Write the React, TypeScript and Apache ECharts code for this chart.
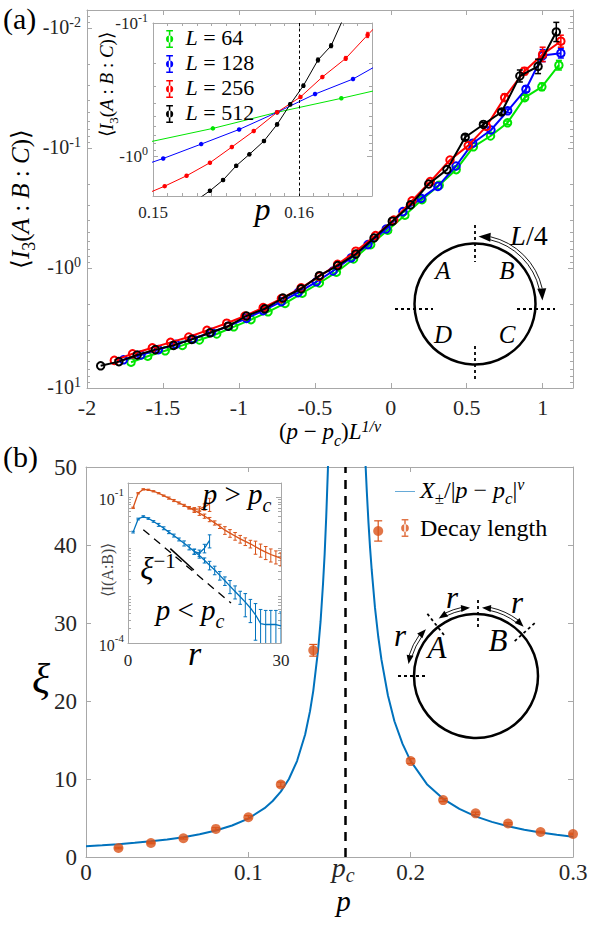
import React, { useEffect, useRef } from 'react';
import * as echarts from 'echarts';

// ---------------- Panel (a): collapse, y = log10|<I3(A:B:C)>| (quantity is negative) ----------------
const aL64X = [-1.71, -1.6, -1.485, -1.372, -1.26, -1.146, -1.034, -0.92, -0.808, -0.696, -0.583, -0.47, -0.358, -0.245, -0.132, -0.02, 0.093, 0.206, 0.319, 0.431, 0.544, 0.657, 0.769, 0.882, 0.995, 1.107];
const aL64Y = [0.785, 0.735, 0.69, 0.645, 0.6, 0.55, 0.49, 0.43, 0.365, 0.295, 0.21, 0.125, 0.035, -0.075, -0.195, -0.315, -0.44, -0.57, -0.69, -0.82, -1.01, -1.1, -1.21, -1.42, -1.51, -1.69];
const aL64E = [0, 0, 0, 0, 0, 0, 0, 0, 0, 0, 0, 0, 0, 0, 0, 0, 0, 0, 0, 0, 0, 0, 0.015, 0.02, 0.03, 0.04];

const aL128X = [-1.76, -1.645, -1.53, -1.415, -1.3, -1.18, -1.07, -0.95, -0.84, -0.72, -0.61, -0.49, -0.38, -0.26, -0.15, -0.03, 0.08, 0.2, 0.31, 0.43, 0.54, 0.66, 0.77, 0.89, 1.0, 1.12];
const aL128Y = [0.765, 0.725, 0.68, 0.635, 0.59, 0.535, 0.485, 0.42, 0.355, 0.28, 0.205, 0.115, 0.025, -0.085, -0.195, -0.325, -0.47, -0.58, -0.68, -0.85, -1.04, -1.15, -1.31, -1.49, -1.77, -1.79];
const aL128E = [0, 0, 0, 0, 0, 0, 0, 0, 0, 0, 0, 0, 0, 0, 0, 0, 0, 0, 0, 0, 0, 0, 0.015, 0.025, 0.05, 0.04];

const aL256X = [-1.82, -1.7, -1.57, -1.45, -1.33, -1.21, -1.08, -0.96, -0.84, -0.72, -0.59, -0.47, -0.35, -0.23, -0.1, 0.02, 0.14, 0.26, 0.39, 0.51, 0.63, 0.75, 0.88, 1.0, 1.12];
const aL256Y = [0.77, 0.715, 0.665, 0.62, 0.575, 0.52, 0.46, 0.4, 0.33, 0.255, 0.165, 0.07, -0.03, -0.14, -0.27, -0.4, -0.56, -0.72, -0.9, -1.02, -1.18, -1.42, -1.64, -1.78, -1.89];
const aL256E = [0, 0, 0, 0, 0, 0, 0, 0, 0, 0, 0, 0, 0, 0, 0, 0, 0, 0, 0, 0, 0, 0.03, 0.03, 0.06, 0.05];

const aL512X = [-1.91, -1.79, -1.67, -1.55, -1.43, -1.31, -1.19, -1.07, -0.95, -0.83, -0.71, -0.59, -0.47, -0.35, -0.23, -0.11, 0.01, 0.13, 0.25, 0.37, 0.49, 0.61, 0.73, 0.85, 0.97, 1.09];
const aL512Y = [0.815, 0.78, 0.725, 0.68, 0.645, 0.595, 0.54, 0.485, 0.4, 0.34, 0.25, 0.173, 0.064, -0.02, -0.116, -0.25, -0.39, -0.526, -0.7, -0.82, -1.09, -1.196, -1.3, -1.6, -1.68, -1.967];
const aL512E = [0, 0, 0, 0, 0, 0, 0, 0, 0, 0, 0, 0, 0, 0, 0, 0, 0, 0, 0, 0, 0.02, 0.015, 0.02, 0.05, 0.06, 0.08];

// Inset (a): log10|<I3>| vs p
const PC_A = 0.1592;
const inL64P = [0.1497, 0.1541, 0.1585, 0.1629, 0.1673];
const inL64Y = [-0.105, -0.208, -0.329, -0.434, -0.545];
const inL128P = [0.1481, 0.1507, 0.1533, 0.1559, 0.1585, 0.1611, 0.1637, 0.1663];
const inL128Y = [0.115, 0.018, -0.09, -0.2, -0.329, -0.466, -0.579, -0.74];
const inL256P = [0.1492, 0.1508, 0.1523, 0.1539, 0.1554, 0.1569, 0.1585, 0.1601, 0.1616, 0.1632, 0.1647, 0.1662];
const inL256Y = [0.3, 0.226, 0.148, 0.05, -0.068, -0.188, -0.329, -0.444, -0.594, -0.734, -0.91, -1.08];
const inL256E = [0, 0, 0, 0, 0, 0, 0, 0, 0, 0.015, 0.02, 0.02];
const inL512P = [0.153, 0.1539, 0.1548, 0.1557, 0.1566, 0.1576, 0.1585, 0.1594, 0.1603, 0.1613, 0.1622, 0.1631];
const inL512Y = [0.33, 0.261, 0.18, 0.073, -0.013, -0.113, -0.238, -0.389, -0.529, -0.722, -0.829, -1.05];
const inL512E = [0.01, 0.01, 0.01, 0.01, 0.01, 0.01, 0.012, 0.012, 0.012, 0.015, 0.015, 0.015];

// ---------------- Panel (b): correlation length xi vs p ----------------
const PC = 0.1585;
const fitLeftP = [0, 0.01, 0.02, 0.03, 0.04, 0.05, 0.06, 0.07, 0.08, 0.09, 0.1, 0.11, 0.115, 0.12, 0.125, 0.13, 0.135, 0.138, 0.14, 0.143, 0.1445, 0.146, 0.147, 0.148, 0.149, 0.1495];
const fitLeftXi = [1.39, 1.51, 1.65, 1.82, 2.01, 2.25, 2.54, 2.91, 3.39, 4.04, 4.93, 6.26, 7.18, 8.38, 10.0, 12.3, 15.7, 18.7, 21.3, 26.6, 30.2, 35.0, 38.8, 43.7, 49.6, 53.2];
const fitRightP = [0.172, 0.173, 0.174, 0.175, 0.176, 0.178, 0.18, 0.182, 0.186, 0.19, 0.195, 0.2, 0.21, 0.22, 0.23, 0.24, 0.25, 0.26, 0.27, 0.28, 0.29, 0.3];
const fitRightXi = [51.2, 46.8, 42.9, 39.6, 36.8, 32.0, 28.3, 25.3, 20.7, 17.4, 14.5, 12.3, 9.34, 7.46, 6.16, 5.21, 4.5, 3.95, 3.5, 3.14, 2.84, 2.59];
const decayP = [0.02, 0.04, 0.06, 0.08, 0.1, 0.12, 0.14, 0.18, 0.2, 0.22, 0.24, 0.26, 0.28, 0.3];
const decayXi = [1.15, 1.8, 2.4, 3.6, 5.1, 9.3, 26.5, 41.8, 12.3, 7.3, 5.6, 4.3, 3.2, 2.95];
const decayErr = [0.1, 0.1, 0.1, 0.15, 0.2, 0.3, 0.75, 1.3, 0.3, 0.2, 0.15, 0.1, 0.1, 0.1];

// Inset (b): log10 <I(A:B)> vs r, with relative errors
const rVals = [1, 2, 3, 4, 5, 6, 7, 8, 9, 10, 11, 12, 13, 14, 15, 16, 17, 18, 19, 20, 21, 22, 23, 24, 25, 26, 27, 28, 29, 30];
const iabAbove = [-1.22, -0.92, -0.84, -0.85, -0.88, -0.92, -0.97, -1.02, -1.07, -1.12, -1.17, -1.22, -1.27, -1.33, -1.39, -1.46, -1.53, -1.6, -1.68, -1.74, -1.8, -1.86, -1.91, -1.96, -2.02, -2.08, -2.13, -2.18, -2.22, -2.26];
const iabAboveRel = [0.03, 0.03, 0.03, 0.03, 0.03, 0.03, 0.03, 0.05, 0.05, 0.05, 0.05, 0.05, 0.1, 0.1, 0.1, 0.1, 0.1, 0.1, 0.18, 0.18, 0.18, 0.18, 0.18, 0.18, 0.3, 0.3, 0.3, 0.3, 0.3, 0.3];
const iabBelow = [-1.72, -1.45, -1.4, -1.44, -1.5, -1.57, -1.64, -1.72, -1.79, -1.87, -1.95, -2.03, -2.12, -2.2, -2.3, -2.4, -2.5, -2.61, -2.72, -2.83, -2.94, -3.05, -3.16, -3.28, -3.42, -3.6, -3.62, -3.62, -3.62, -3.65];
const iabBelowRel = [0.04, 0.04, 0.04, 0.04, 0.04, 0.07, 0.07, 0.07, 0.07, 0.07, 0.12, 0.12, 0.12, 0.12, 0.12, 0.2, 0.2, 0.2, 0.2, 0.3, 0.3, 0.3, 0.5, 0.5, 0.7, 0.95, 0.95, 0.95, 0.95, 0.95];
const shortAboveR = [12, 13, 14, 15, 16];
const shortAbove = [-1.22, -1.25, -1.24, -1.2, -1.14];
const shortAboveRel = [0.05, 0.08, 0.1, 0.15, 0.3];
const shortBelowR = [13, 14, 15, 16];
const shortBelow = [-2.12, -2.15, -2.05, -1.89];
const shortBelowRel = [0.12, 0.15, 0.2, 0.3];
const guideR = [3.0, 20.2];
const guideY = [-1.67, -3.18];
const arrowR = [8.3, 12.9];
const arrowY = [-2.06, -2.5];

// ---------------- style ----------------
const SERIF = 'Liberation Serif';
const AX = '#a8a8a8';
const TXT = '#262626';
const GREEN = '#00e600';
const BLUE = '#0000ff';
const RED = '#ff0000';
const BLACK = '#000000';
const MBLUE = '#0072BD';
const MORANGE = '#D95319';

function rich(fs: number, color = '#000') {
  const b = Math.round(fs * 0.2);
  const base = { fontFamily: SERIF, color, verticalAlign: 'bottom' };
  return {
    n: { ...base, fontSize: fs, padding: [0, 0, b, 0] },
    m: { ...base, fontSize: fs, padding: [0, 0, 0, 0] },
    i: { ...base, fontSize: fs, fontStyle: 'italic', padding: [0, 0, b, 0] },
    il: { ...base, fontSize: fs, fontStyle: 'italic', lineHeight: Math.round(fs * 0.75), padding: [0, 0, 0, 0] },
    sub: { ...base, fontSize: Math.round(fs * 0.7), fontStyle: 'italic', padding: [0, 0, 0, 0] },
    subn: { ...base, fontSize: Math.round(fs * 0.7), padding: [0, 0, 0, 0] },
    sup: { ...base, fontSize: Math.round(fs * 0.68), padding: [0, 0, Math.round(fs * 0.62), 0] },
    supi: { ...base, fontSize: Math.round(fs * 0.68), fontStyle: 'italic', padding: [0, 0, Math.round(fs * 0.62), 0] },
    // large math tokens used beside ordinary tick labels
    bi: { ...base, fontSize: 28, fontStyle: 'italic', lineHeight: 24, padding: [0, 0, 4, 0] },
    bsub: { ...base, fontSize: 20, fontStyle: 'italic', lineHeight: 18, padding: [0, 0, 0, 0] },
  };
}

const pts = (xs: number[], ys: number[]) => xs.map((x, i) => [x, ys[i]]);
const errSym = (xs: number[], ys: number[], es: number[]) =>
  xs.map((x, i) => [x, ys[i] - es[i], ys[i] + es[i]]).filter((_, i) => es[i] > 0);
const errRel = (xs: number[], ys: number[], rel: number[]) =>
  xs.map((x, i) => [x, rel[i] >= 1 ? -10 : ys[i] + Math.log10(1 - rel[i]), ys[i] + Math.log10(1 + rel[i])]);

function logMinors(lo: number, hi: number) {
  const out: number[] = [];
  for (let n = -6; n <= 2; n++) for (let k = 2; k <= 9; k++) {
    const v = Math.log10(k) + n;
    if (v > lo + 1e-6 && v < hi - 1e-6) out.push(v);
  }
  return out;
}

function buildAxes(list: any[], dim: 'x' | 'y', o: any) {
  const idx = list.length;
  const sides = dim === 'x' ? ['bottom', 'top'] : ['left', 'right'];
  sides.forEach((pos, s) => {
    const common = {
      gridIndex: o.grid, type: 'value', min: o.min, max: o.max, inverse: !!o.inverse,
      position: pos, splitLine: { show: false }, minorTick: { show: false },
    };
    const ax: any = {
      ...common,
      axisLine: { show: true, onZero: false, lineStyle: { color: AX, width: 1 } },
      axisTick: { show: true, inside: true, length: o.majorLen ?? 5, customValues: o.majors, lineStyle: { color: AX, width: 1 } },
      axisLabel: s === 0 && o.label ? { ...o.label, customValues: o.labelValues ?? o.majors } : { show: false },
    };
    if (s === 0 && o.name) {
      ax.name = o.name;
      ax.nameLocation = 'middle';
      ax.nameGap = o.nameGap;
      ax.nameRotate = o.nameRotate ?? 0;
      ax.nameTextStyle = o.nameTextStyle;
      ax.nameMoveOverlap = false;
    }
    list.push(ax);
    if (o.minors && o.minors.length) {
      list.push({
        ...common,
        axisLine: { show: false, onZero: false },
        axisTick: { show: true, inside: true, length: o.minorLen ?? 3, customValues: o.minors, lineStyle: { color: AX, width: 1 } },
        axisLabel: { show: false },
      });
    }
  });
  return idx;
}

const errRender = (color: string, cap: number, lw: number) => (_p: any, api: any) => {
  const x = api.value(0), lo = api.value(1), hi = api.value(2);
  const a = api.coord([x, lo]);
  const b = api.coord([x, hi]);
  const st = { stroke: color, lineWidth: lw };
  return {
    type: 'group',
    children: [
      { type: 'line', shape: { x1: a[0], y1: a[1], x2: b[0], y2: b[1] }, style: st },
      { type: 'line', shape: { x1: a[0] - cap, y1: a[1], x2: a[0] + cap, y2: a[1] }, style: st },
      { type: 'line', shape: { x1: b[0] - cap, y1: b[1], x2: b[0] + cap, y2: b[1] }, style: st },
    ],
  };
};

function errSeries(name: string, xi: number, yi: number, data: number[][], color: string, cap: number, lw: number, z: number) {
  return {
    type: 'custom', name, xAxisIndex: xi, yAxisIndex: yi, z, clip: true, silent: true,
    encode: { x: 0, y: [1, 2] }, data, renderItem: errRender(color, cap, lw),
  };
}

// diagram helpers
const D2R = Math.PI / 180;
function arrowHead(cx: number, cy: number, R: number, deg: number, ccw: boolean, len: number, half: number) {
  const t = deg * D2R;
  const tx = cx + R * Math.cos(t), ty = cy + R * Math.sin(t);
  const ux = ccw ? Math.sin(t) : -Math.sin(t);
  const uy = ccw ? -Math.cos(t) : Math.cos(t);
  const bx = tx - ux * len, by = ty - uy * len;
  return {
    type: 'polygon', z: 20,
    shape: { points: [[tx, ty], [bx - uy * half, by + ux * half], [bx + uy * half, by - ux * half]] },
    style: { fill: '#000' },
  };
}
function arcEl(cx: number, cy: number, r: number, a0: number, a1: number, lw: number) {
  return { type: 'arc', z: 20, shape: { cx, cy, r, startAngle: a0 * D2R, endAngle: a1 * D2R, clockwise: true }, style: { stroke: '#000', fill: 'none', lineWidth: lw } };
}
function dash(x1: number, y1: number, x2: number, y2: number, lw = 1.8) {
  return { type: 'line', z: 20, shape: { x1, y1, x2, y2 }, style: { stroke: '#000', lineWidth: lw, lineDash: [3, 3] } };
}
function radialDash(cx: number, cy: number, deg: number, r0: number, r1: number) {
  const t = deg * D2R;
  return dash(cx + r0 * Math.cos(t), cy + r0 * Math.sin(t), cx + r1 * Math.cos(t), cy + r1 * Math.sin(t));
}
function label(x: number, y: number, text: string, fs: number) {
  return {
    type: 'text', z: 21, x, y,
    style: { text, rich: rich(fs, '#000'), fontFamily: SERIF, fontSize: fs, fill: '#000', align: 'center', verticalAlign: 'middle', textAlign: 'center', textVerticalAlign: 'middle' },
  };
}

const EB_ICON = 'path://M2.4 0h1.2v14H2.4z M0.4 0h5.2v1.2H0.4z M0.4 12.8h5.2V14H0.4z M0.2 7a2.8 2.8 0 1 0 5.6 0a2.8 2.8 0 1 0 -5.6 0z';
const EB_DOT_ICON = 'path://M2.4 0h1.2v14H2.4z M0.4 0h5.2v1.2H0.4z M0.4 12.8h5.2V14H0.4z M0 7a3 3 0 1 0 6 0a3 3 0 1 0 -6 0z';
const LINE_ICON = 'path://M0 0h20v0.6H0z';
const FIT_NAME = 'X±/|p − pc|^ν';

function buildOption() {
  const xAxes: any[] = [];
  const yAxes: any[] = [];

  // grid 0: panel (a) main
  const X0 = buildAxes(xAxes, 'x', {
    grid: 0, min: -2, max: 1.2, majors: [-2, -1.5, -1, -0.5, 0, 0.5, 1],
    label: { fontFamily: SERIF, fontSize: 22, color: TXT, margin: 8, formatter: (v: number) => String(v) },
    name: '{n|(}{i|p}{n| − }{i|p}{sub|c}{n|)}{i|L}{supi|1/ν}', nameGap: 45,
    nameTextStyle: { rich: rich(23), verticalAlign: 'middle' },
  });
  const Y0 = buildAxes(yAxes, 'y', {
    grid: 0, min: -2.15, max: 1, inverse: true, majors: [-2, -1, 0, 1], minors: logMinors(-2.15, 1),
    label: { margin: 6, rich: rich(20, TXT), formatter: (v: number) => '{n|-10}{sup|' + Math.round(v) + '}' },
    name: '{n|⟨}{i|I}{subn|3}{n|(}{i|A}{n| : }{i|B}{n| : }{i|C}{n|)⟩}', nameGap: 64, nameRotate: 90,
    nameTextStyle: { rich: rich(25), verticalAlign: 'middle' },
  });
  // grid 1: inset (a)
  const inXMinors: number[] = [];
  for (let k = 1; k <= 14; k++) if (k !== 10) inXMinors.push(Math.round((0.15 + k * 0.001) * 1e4) / 1e4);
  const X1 = buildAxes(xAxes, 'x', {
    grid: 1, min: 0.15, max: 0.165, majors: [0.15, 0.16], minors: inXMinors,
    label: { fontFamily: SERIF, fontSize: 17, color: TXT, margin: 8, formatter: (v: number) => v.toFixed(2) },
    name: '{i|p}', nameGap: 16, nameTextStyle: { rich: rich(32), verticalAlign: 'middle' },
  });
  const Y1 = buildAxes(yAxes, 'y', {
    grid: 1, min: -1, max: 0.3, inverse: true, majors: [-1, 0], minors: logMinors(-1, 0.3),
    label: { margin: 5, rich: rich(17, TXT), formatter: (v: number) => '{n|-10}{sup|' + Math.round(v) + '}' },
    name: '{n|⟨}{i|I}{subn|3}{n|(}{i|A}{n| : }{i|B}{n| : }{i|C}{n|)⟩}', nameGap: 45, nameRotate: 90,
    nameTextStyle: { rich: rich(19), verticalAlign: 'middle', padding: [0, 0, 0, 50] },
  });
  // grid 2: panel (b) main
  const X2 = buildAxes(xAxes, 'x', {
    grid: 2, min: 0, max: 0.3, majors: [0, 0.1, 0.2, 0.3], labelValues: [0, 0.1, PC, 0.2, 0.3],
    label: {
      margin: 4, rich: rich(23, TXT),
      formatter: (v: number) => (Math.abs(v - PC) < 1e-9 ? '{bi|p}{bsub|c}' : '{m|' + v + '}'),
    },
    name: '{il|p}', nameGap: 47, nameTextStyle: { rich: rich(29), verticalAlign: 'middle', padding: [0, 0, 0, 28] },
  });
  const Y2 = buildAxes(yAxes, 'y', {
    grid: 2, min: 0, max: 50, majors: [0, 10, 20, 30, 40, 50],
    label: { fontFamily: SERIF, fontSize: 23, color: TXT, margin: 9 },
    name: '{i|ξ}', nameGap: 36, nameTextStyle: { rich: rich(42), verticalAlign: 'middle', padding: [42, 0, 0, 0] },
  });
  // grid 3: inset (b)
  const X3 = buildAxes(xAxes, 'x', {
    grid: 3, min: 0, max: 30, majors: [0, 30],
    label: { fontFamily: SERIF, fontSize: 17, color: TXT, margin: 9 },
    name: '{i|r}', nameGap: 14, nameTextStyle: { rich: rich(34), verticalAlign: 'middle', padding: [0, 20, 0, 0] },
  });
  const Y3 = buildAxes(yAxes, 'y', {
    grid: 3, min: -4, max: -0.71, majors: [-4, -1], minors: logMinors(-4, -0.71),
    label: { margin: 4, rich: rich(16, TXT), formatter: (v: number) => '{m|10}{sup|' + Math.round(v) + '}' },
    name: '{m|⟨I(A:B)⟩}', nameGap: 21, nameRotate: 90,
    nameTextStyle: { rich: rich(16, '#444'), verticalAlign: 'middle', padding: [0, 14, 0, 0] },
  });

  const insetA = [
    { name: 'L = 64', p: inL64P, y: inL64Y, e: null as any, color: GREEN },
    { name: 'L = 128', p: inL128P, y: inL128Y, e: null as any, color: BLUE },
    { name: 'L = 256', p: inL256P, y: inL256Y, e: inL256E, color: RED },
    { name: 'L = 512', p: inL512P, y: inL512Y, e: inL512E, color: BLACK },
  ];
  const mainA = [
    { name: 'L = 64', x: aL64X, y: aL64Y, e: aL64E, color: GREEN },
    { name: 'L = 128', x: aL128X, y: aL128Y, e: aL128E, color: BLUE },
    { name: 'L = 256', x: aL256X, y: aL256Y, e: aL256E, color: RED },
    { name: 'L = 512', x: aL512X, y: aL512Y, e: aL512E, color: BLACK },
  ];

  const series: any[] = [];
  insetA.forEach((s, k) => {
    const ser: any = {
      type: 'line', name: s.name, xAxisIndex: X1, yAxisIndex: Y1, data: pts(s.p, s.y),
      symbol: 'circle', symbolSize: 4.5, lineStyle: { color: s.color, width: 1 }, itemStyle: { color: s.color },
      z: 3 + k, clip: true,
    };
    if (k === 3) {
      ser.markLine = {
        silent: true, symbol: ['none', 'none'], label: { show: false },
        lineStyle: { color: '#000', type: [3, 2.5], width: 1 }, data: [{ xAxis: PC_A }],
      };
    }
    series.push(ser);
    if (s.e) series.push(errSeries('err-in-' + s.name, X1, Y1, errSym(s.p, s.y, s.e), s.color, 1.5, 1, 3 + k));
  });
  mainA.forEach((s, k) => {
    series.push({
      type: 'line', name: s.name, xAxisIndex: X0, yAxisIndex: Y0, data: pts(s.x, s.y),
      symbol: 'circle', symbolSize: 7.5, lineStyle: { color: s.color, width: 2 },
      itemStyle: { color: 'rgba(255,255,255,0)', borderColor: s.color, borderWidth: 2 }, z: 3 + k,
    });
    series.push(errSeries('err-' + s.name, X0, Y0, errSym(s.x, s.y, s.e), s.color, 3, 1.5, 3 + k));
  });

  // panel (b)
  series.push({
    type: 'line', name: FIT_NAME, xAxisIndex: X2, yAxisIndex: Y2, data: pts(fitLeftP, fitLeftXi),
    symbol: 'none', lineStyle: { color: MBLUE, width: 2 }, itemStyle: { color: MBLUE }, z: 3,
    markLine: {
      silent: true, symbol: ['none', 'none'], label: { show: false },
      lineStyle: { color: '#000', type: [9, 7], width: 2.5 }, data: [{ xAxis: PC }],
    },
  });
  series.push({
    type: 'line', name: FIT_NAME, xAxisIndex: X2, yAxisIndex: Y2, data: pts(fitRightP, fitRightXi),
    symbol: 'none', lineStyle: { color: MBLUE, width: 2 }, itemStyle: { color: MBLUE }, z: 3,
  });
  series.push(errSeries('err-decay', X2, Y2, decayP.map((p, i) => [p, decayXi[i] - decayErr[i], decayXi[i] + decayErr[i]]), MORANGE, 4, 1.2, 5));
  series.push({
    type: 'scatter', name: 'Decay length', xAxisIndex: X2, yAxisIndex: Y2, data: pts(decayP, decayXi),
    symbol: 'circle', symbolSize: 10, itemStyle: { color: MORANGE }, z: 6,
  });

  // inset (b)
  const insB = [
    { name: 'p > pc', r: rVals, y: iabAbove, rel: iabAboveRel, color: MORANGE },
    { name: 'p < pc', r: rVals, y: iabBelow, rel: iabBelowRel, color: MBLUE },
    { name: 'p > pc (short)', r: shortAboveR, y: shortAbove, rel: shortAboveRel, color: MORANGE },
    { name: 'p < pc (short)', r: shortBelowR, y: shortBelow, rel: shortBelowRel, color: MBLUE },
  ];
  insB.forEach((s) => {
    series.push({
      type: 'line', name: s.name, xAxisIndex: X3, yAxisIndex: Y3, data: pts(s.r, s.y),
      symbol: 'none', lineStyle: { color: s.color, width: 1.3 }, z: 3,
    });
    series.push(errSeries('err-' + s.name, X3, Y3, errRel(s.r, s.y, s.rel), s.color, 1.8, 1, 3));
  });
  series.push({
    type: 'line', name: 'guide', xAxisIndex: X3, yAxisIndex: Y3, data: pts(guideR, guideY),
    symbol: 'none', lineStyle: { color: '#000', width: 1.3, type: [8, 6] }, z: 4,
    markLine: {
      silent: true, symbol: ['none', 'arrow'], symbolSize: [0, 10], label: { show: false },
      lineStyle: { color: '#000', width: 1.5, type: 'solid' },
      data: [[{ coord: [arrowR[0], arrowY[0]] }, { coord: [arrowR[1], arrowY[1]] }]],
    },
  });

  // diagrams
  const ca = { x: 475, y: 304, r: 60.5 };
  const cb = { x: 476, y: 676, r: 62 };
  const graphic: any[] = [
    { type: 'text', left: 3, top: 3, z: 21, style: { text: '(a)', fontFamily: SERIF, fontSize: 30, fill: '#000' } },
    { type: 'text', left: 3, top: 441, z: 21, style: { text: '(b)', fontFamily: SERIF, fontSize: 30, fill: '#000' } },
    // (a) circle
    { type: 'circle', z: 20, shape: { cx: ca.x, cy: ca.y, r: ca.r }, style: { fill: 'none', stroke: '#000', lineWidth: 2.5 } },
    dash(475, 225, 475, 262), dash(475, 346, 475, 382), dash(395, 309, 433, 309), dash(517, 309, 555, 309),
    arcEl(ca.x, ca.y, 66, -77, -13, 0.9), arcEl(ca.x, ca.y, 69, -77, -13, 0.9),
    arrowHead(ca.x, ca.y, 67.5, -87, true, 12, 4.5), arrowHead(ca.x, ca.y, 67.5, -3, false, 12, 4.5),
    label(443, 273, '{i|A}', 25), label(507, 273, '{i|B}', 25), label(443, 337, '{i|D}', 25), label(507, 337, '{i|C}', 25),
    label(529, 238, '{i|L}{n|/4}', 28),
    // (b) circle
    { type: 'circle', z: 20, shape: { cx: cb.x, cy: cb.y, r: cb.r }, style: { fill: 'none', stroke: '#000', lineWidth: 2.5 } },
    dash(478, 600, 478, 628), dash(398, 676, 428, 676),
    radialDash(cb.x, cb.y, -128, 52, 80), radialDash(cb.x, cb.y, -42, 52, 80),
    arcEl(cb.x, cb.y, 67, -163, -144, 0.9), arcEl(cb.x, cb.y, 70, -163, -144, 0.9),
    arcEl(cb.x, cb.y, 67, -116, -102, 0.9), arcEl(cb.x, cb.y, 70, -116, -102, 0.9),
    arcEl(cb.x, cb.y, 67, -78, -53, 0.9), arcEl(cb.x, cb.y, 70, -78, -53, 0.9),
    arrowHead(cb.x, cb.y, 68.5, -170, true, 9, 3.5), arrowHead(cb.x, cb.y, 68.5, -137, false, 9, 3.5),
    arrowHead(cb.x, cb.y, 68.5, -123, true, 9, 3.5), arrowHead(cb.x, cb.y, 68.5, -95, false, 9, 3.5),
    arrowHead(cb.x, cb.y, 68.5, -85, true, 9, 3.5), arrowHead(cb.x, cb.y, 68.5, -46, false, 9, 3.5),
    label(452, 600, '{i|r}', 31), label(517, 605, '{i|r}', 31), label(400, 638, '{i|r}', 31),
    label(437, 650, '{i|A}', 31), label(498, 643, '{i|B}', 31),
    // inset (b) annotations
    label(237, 497, '{i|p}{n| > }{i|p}{sub|c}', 29),
    label(190, 613, '{i|p}{n| < }{i|p}{sub|c}', 29),
    label(158, 570, '{i|ξ}{sup|−1}', 31),
  ];

  return {
    animation: false,
    backgroundColor: '#fff',
    textStyle: { fontFamily: SERIF },
    grid: [
      { left: 86, top: 10, width: 487, height: 378 },
      { left: 153, top: 23, width: 219, height: 173 },
      { left: 86, top: 467, width: 487, height: 390 },
      { left: 128, top: 483, width: 153, height: 160 },
    ],
    xAxis: xAxes,
    yAxis: yAxes,
    legend: [
      {
        orient: 'vertical', left: 161, top: 21, itemWidth: 22, itemHeight: 18, itemGap: 3, selectedMode: false,
        data: [
          { name: 'L = 64', icon: EB_ICON, itemStyle: { color: GREEN } },
          { name: 'L = 128', icon: EB_ICON, itemStyle: { color: BLUE } },
          { name: 'L = 256', icon: EB_ICON, itemStyle: { color: RED } },
          { name: 'L = 512', icon: EB_ICON, itemStyle: { color: BLACK } },
        ],
        formatter: (n: string) => '{i|L}{n| = ' + n.split('= ')[1] + '}',
        textStyle: { fontFamily: SERIF, fontSize: 22, rich: rich(22) },
      },
      {
        orient: 'vertical', left: 390, top: 471, itemWidth: 20, itemHeight: 18, itemGap: 9, selectedMode: false,
        data: [
          { name: FIT_NAME, icon: LINE_ICON, lineStyle: { color: MBLUE, width: 2 } },
          { name: 'Decay length', icon: EB_DOT_ICON, itemStyle: { color: MORANGE } },
        ],
        formatter: (n: string) => (n === FIT_NAME
          ? '{i|X}{subn|±}{n|/|}{i|p}{n| − }{i|p}{sub|c}{n||}{supi|ν}'
          : '{m|Decay length}'),
        textStyle: { fontFamily: SERIF, fontSize: 24, rich: rich(24) },
      },
    ],
    graphic,
    series,
  };
}

export default function App() {
  const ref = useRef<HTMLDivElement>(null);
  useEffect(() => {
    document.body.style.margin = '0';
    const chart = echarts.init(ref.current!, undefined, { renderer: 'svg' });
    chart.setOption(buildOption() as any);
    return () => chart.dispose();
  }, []);
  return <div ref={ref} style={{ width: 594, height: 928, background: '#fff' }} />;
}
